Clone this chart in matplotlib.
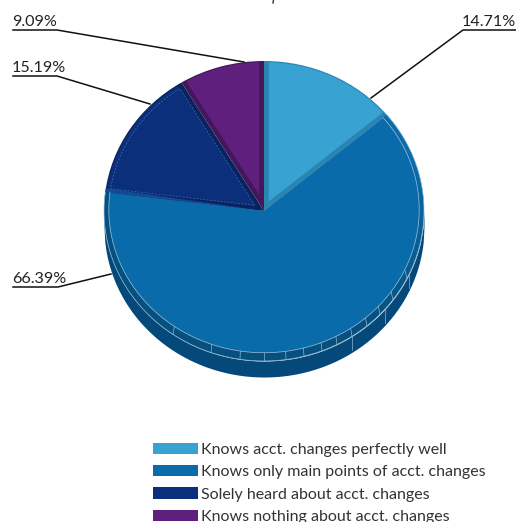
# pie_conocimiento.py
# Pie with a bevelled top face and a thick side, labels on leader lines

import numpy as np
import matplotlib
matplotlib.use("Agg")
import matplotlib.pyplot as plt
from matplotlib.colors import to_rgb

categorias = [
    "Knows acct. changes perfectly well",
    "Knows only main points of acct. changes",
    "Solely heard about acct. changes",
    "Knows nothing about acct. changes",
]
valores = [14.71, 66.39, 15.19, 9.09]
etiquetas = ["14.71%", "66.39%", "15.19%", "9.09%"]

colores = ["#38A3D3", "#0A6BAA", "#0C2F7C", "#5F1F7C"]
colores_borde = ["#2B85B1", "#0A6BAA", "#08235F", "#43175A"]
COLOR_LADO = "#04497A"
COLOR_ARO = "#05507F"
COLOR_LINEA = "#9FC3DA"

W, H = 516, 522
CX, CY = 264, 211   # centro en pixeles
RX, RY = 160, 150
PROF = 16           # grosor del lado


def px(x, y):
    # pixeles de la figura a coordenadas del pie (radio 1)
    return (x - CX) / RX, (CY - y) / RY


def cara_interior(a0, a1, radio, banda):
    # poligono de la cara superior, retirado de los bordes radiales
    delta = np.degrees(np.arcsin(banda))
    t = np.radians(np.linspace(a0 + delta, a1 - delta, 60))
    xs = radio * np.cos(t)
    ys = radio * np.sin(t)
    mitad = np.radians((a0 + a1) / 2)
    sep = banda / np.sin(np.radians((a1 - a0) / 2))
    return np.r_[sep * np.cos(mitad), xs], np.r_[sep * np.sin(mitad), ys]


def main():
    plt.rcParams["font.family"] = "Lato"
    fig = plt.figure(figsize=(W / 100, H / 100), dpi=100)
    ax = fig.add_axes([0, 0, 1, 1])

    # lado del pie, solo la mitad de abajo se ve
    x = np.linspace(-1, 1, 400)
    borde = -np.sqrt(1 - x ** 2)
    ax.fill_between(x, borde, borde - PROF / RY, color=COLOR_LADO, lw=0)

    wedges, _ = ax.pie(
        valores, colors=colores_borde, startangle=90, counterclock=False,
        radius=1, wedgeprops={"linewidth": 0},
    )
    ax.set_aspect("auto")
    ax.set_xlim(-CX / RX, (W - CX) / RX)
    ax.set_ylim((CY - H) / RY, CY / RY)

    # caras con bisel
    for w, c in zip(wedges, colores):
        banda = 0.0 if c == colores[1] else 0.03
        xs, ys = cara_interior(w.theta1, w.theta2, 0.992, banda)
        ax.fill(xs, ys, color=c, lw=0, zorder=3)

    # banda clara y linea fina del trozo azul oscuro
    az = wedges[2]
    t_az = np.radians(np.linspace(az.theta2 - 1.7, az.theta2, 5))
    ax.fill(np.r_[0, np.cos(t_az)], np.r_[0, np.sin(t_az)],
            color="#114A96", lw=0, zorder=3)
    xs, ys = cara_interior(az.theta1, az.theta2, 0.97, 0.03)
    ax.plot(np.r_[xs, xs[0]], np.r_[ys, ys[0]], color="#3F6DB0", lw=0.5,
            ls=(0, (3, 2)), zorder=4)

    # aro del trozo principal, se oscurece hacia abajo
    g = wedges[1]
    angulos = np.linspace(g.theta1, g.theta2, 181)
    c0, c1 = np.array(to_rgb(colores[1])), np.array(to_rgb(COLOR_ARO))
    for a0, a1 in zip(angulos[:-1], angulos[1:]):
        t = np.radians(np.linspace(a0, a1 + 0.3, 4))
        mezcla = np.clip((20 - (a0 + a1) / 2 + 360 * (a0 > 180)) / 70, 0, 1)
        ax.fill(np.r_[np.cos(t), 0.97 * np.cos(t[::-1])],
                np.r_[np.sin(t), 0.955 * np.sin(t[::-1]) + 0.01],
                color=(1 - mezcla) * c0 + mezcla * c1, lw=0, zorder=4)
    t = np.radians(angulos)
    ax.plot(np.cos(t), np.sin(t), color=COLOR_LINEA, lw=0.5, zorder=5)
    ax.plot(0.97 * np.cos(t), 0.955 * np.sin(t) + 0.01,
            color=COLOR_LINEA, lw=0.5, zorder=5)

    # marcas del aro y del lado
    for xp in [173, 211, 240, 264, 286, 304, 322, 337, 352, 367, 380, 393, 407]:
        x0 = (xp - CX) / RX
        y1 = -np.sqrt(1 - x0 ** 2)
        ax.plot([x0, x0 * 0.985], [y1, y1 + 8 / RY], color="#8FB5CF", lw=0.5, zorder=5)
    for xp in [352, 385, 409]:
        x0 = (xp - CX) / RX
        y1 = -np.sqrt(1 - x0 ** 2)
        ax.plot([x0, x0], [y1, y1 - 14 / RY], color="#8FB5CF", lw=0.5, zorder=5)

    # etiquetas con linea guia
    guias = [
        ((516, 30), (463, 30), (371, 98)),
        ((13, 287), (58, 287), (111, 274)),
        ((13, 76), (57, 76), (150, 104)),
        ((13, 30), (57, 30), (244, 62)),
    ]
    for etiqueta, puntos in zip(etiquetas, guias):
        xs, ys = zip(*[px(*p) for p in puntos])
        ax.plot(xs, ys, color="#111111", lw=1.1, zorder=6, solid_joinstyle="miter")
        izq = min(puntos[0][0], puntos[1][0])
        tx, ty = px(izq - 1, puntos[0][1] - 1)
        ax.text(tx, ty, etiqueta, fontsize=11.6, color="#222222",
                ha="left", va="bottom", zorder=7)

    # resto de trazo arriba del pie
    ax.plot(*zip(px(273.5, 0), px(273, 3)), color="#333333", lw=1.0, zorder=6)

    leyenda = fig.legend(
        wedges, categorias, loc="upper left", bbox_to_anchor=(153 / W, 1 - 443 / H),
        bbox_transform=fig.transFigure, frameon=False, fontsize=11.5,
        handlelength=2.8, handleheight=0.7, handletextpad=0.2,
        labelspacing=0.5, borderpad=0, borderaxespad=0, labelcolor="#333333",
    )
    for parche, c in zip(leyenda.get_patches(), colores):
        parche.set_facecolor(c)

    ax.axis("off")
    fig.savefig("out.png", dpi=100)
    plt.close(fig)


if __name__ == "__main__":
    main()
